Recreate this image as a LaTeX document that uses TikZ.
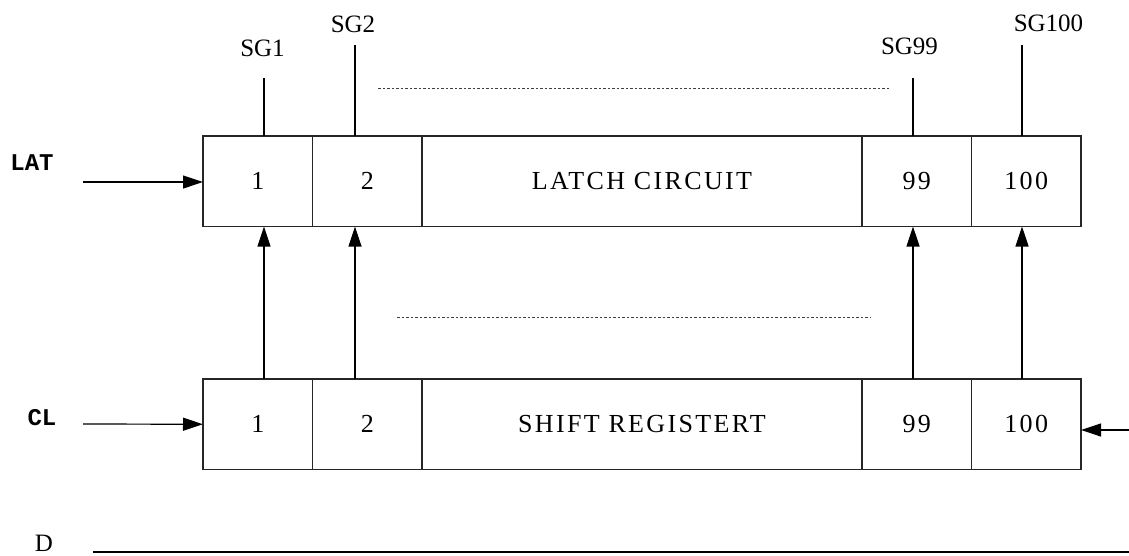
\documentclass[tikz,border=0pt]{standalone}
\usepackage{fontspec}
\setmainfont{Liberation Serif}
\newfontfamily\pinfont{Liberation Mono}
\usetikzlibrary{positioning, arrows.meta}

\begin{document}
\begin{tikzpicture}[x=1pt, y=-1pt,
    c/.style={draw=black!85, line width=1.2pt, minimum width=109.5pt, minimum height=90.5pt, inner sep=0pt, outer sep=0pt, font=\fontsize{26}{28}\selectfont\addfontfeature{LetterSpace=9}},
    w/.style={c, minimum width=440pt},
    lbl/.style={inner sep=0pt, font=\fontsize{25}{27}\selectfont},
    pin/.style={inner sep=0pt, font=\pinfont\bfseries\fontsize{24}{26}\selectfont},
    arr/.style={-{Triangle[length=20pt, width=13pt]}, line width=1.2pt},
    wire/.style={line width=1.2pt},
    dots/.style={line width=1pt, black!75, dash pattern=on 2.5pt off 2pt}]
  \useasboundingbox (0,0) rectangle (1129,555);
  % latch row
  \node[c, anchor=north west] (l1) at (203,136) {1};
  \node[c, right=0pt of l1] (l2) {2};
  \node[w, right=0pt of l2] (lc) {LATCH CIRCUIT};
  \node[c, right=0pt of lc] (l99) {99};
  \node[c, right=0pt of l99] (l100) {100};
  % shift register row
  \node[c, anchor=north west] (s1) at (203,379) {1};
  \node[c, right=0pt of s1] (s2) {2};
  \node[w, right=0pt of s2] (sc) {SHIFT REGISTERT};
  \node[c, right=0pt of sc] (s99) {99};
  \node[c, right=0pt of s99] (s100) {100};
  % pin names
  \node[pin] (lat) at (32,163) {LAT};
  \node[pin] (cl) at (42,418) {CL};
  \node[lbl] (d) at (44,543) {D};
  \node[lbl] (sg1) at (262.5,48.5) {SG1};
  \node[lbl] (sg2) at (353,24) {SG2};
  \node[lbl] (sg99) at (909.5,46) {SG99};
  \node[lbl] (sg100) at (1048.5,23.5) {SG100};
  % outputs and latch feeds
  \coordinate (t1) at (264,78);
  \coordinate (t2) at (355,45);
  \coordinate (t99) at (913,78);
  \coordinate (t100) at (1022,45);
  \foreach \i in {1,2,99,100} {
    \draw[wire] (t\i) -- (t\i |- l\i.north);
    \draw[arr] (t\i |- s\i.north) -- (t\i |- l\i.south);
  }
  % inputs
  \coordinate (latin) at (83,182);
  \coordinate (clin) at (83,424);
  \coordinate (din) at (1129,430);
  \coordinate (dw) at (93,552);
  \draw[arr] (latin) -- (latin -| l1.west);
  \draw[arr] (clin) -- (s1.west);
  \draw[arr] (din) -- (din -| s100.east);
  \draw[wire] (dw) -- (dw -| din);
  % dotted continuations
  \draw[dots] (378,88) -- (889,88);
  \draw[dots] (397,317) -- (871,317);
\end{tikzpicture}
\end{document}
